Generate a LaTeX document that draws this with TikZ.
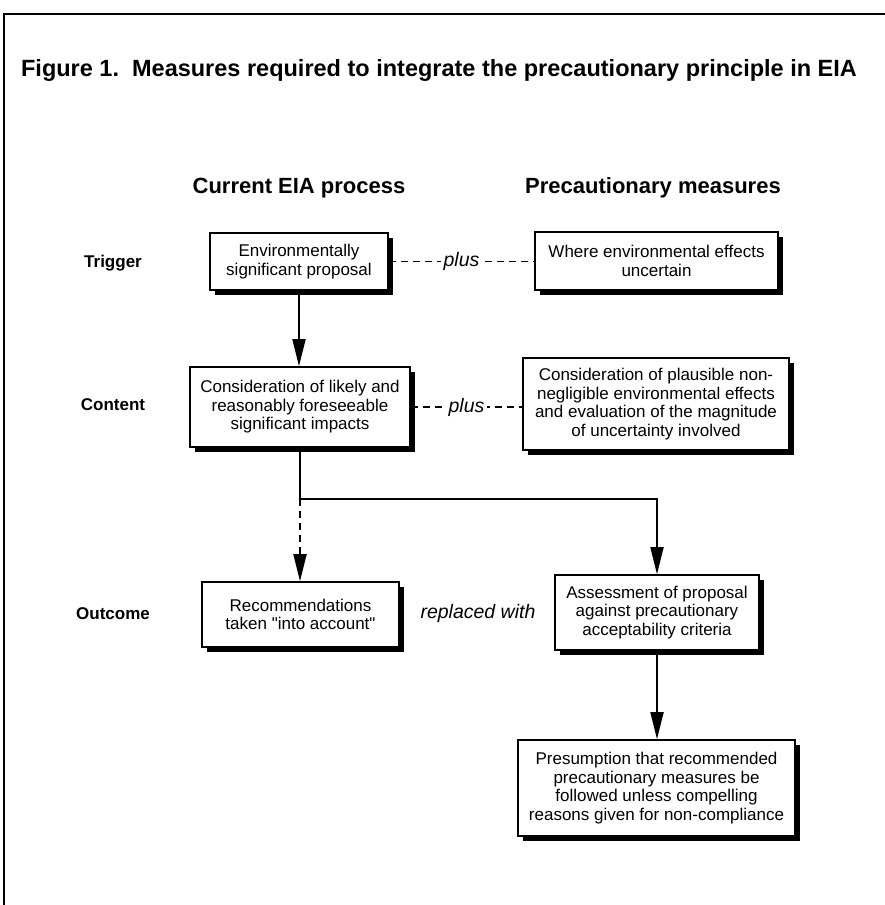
\documentclass[tikz,border=0pt]{standalone}
\usepackage{fontspec}
\setmainfont{Liberation Sans}
\newfontfamily\qfont{Liberation Sans}[Ligatures=TeXOff]
\usetikzlibrary{arrows.meta,shadows}
\begin{document}
\begin{tikzpicture}[x=1pt,y=-1pt,
  box/.style={draw, line width=1.6pt, fill=white, align=center, inner sep=0pt,
    font=\fontsize{17}{18.5}\selectfont,
    drop shadow={shadow xshift=5pt, shadow yshift=-5pt, fill=black, opacity=1}},
  rowlab/.style={font=\bfseries\fontsize{17}{20}\selectfont},
  colhead/.style={font=\bfseries\fontsize{22}{26}\selectfont},
  titlefont/.style={font=\bfseries\fontsize{23.5}{28}\selectfont},
  conn/.style={line width=1.8pt, -{Triangle[length=27pt,width=13pt]}},
  dconn/.style={conn, dash pattern=on 7pt off 5pt},
  plusline/.style={line width=1.3pt, dash pattern=on 7pt off 5pt},
  itlab/.style={font=\itshape\fontsize{19.5}{22}\selectfont, inner sep=3pt},
  plab/.style={itlab, fill=white},
]
\useasboundingbox (0,0) rectangle (885,905);
\draw[line width=1.5pt] (4,905) -- (4,14) -- (885,14);

\node[titlefont] (title) at (439,70) {Figure 1.\ \ Measures required to integrate the precautionary principle in EIA};

\node[colhead] (hcur) at (299,188) {Current EIA process};
\node[colhead] (hpre) at (653,188) {Precautionary measures};

\node[rowlab] (rtrig) at (113,263) {Trigger};
\node[rowlab] (rcont) at (113,405) {Content};
\node[rowlab] (rout) at (113,614) {Outcome};

\node[box, minimum width=178pt, minimum height=57pt] (b1) at (299,261.5)
  {Environmentally\\significant proposal};
\node[box, minimum width=243pt, minimum height=58pt] (b2) at (656.5,261)
  {Where environmental effects\\uncertain};
\node[box, minimum width=220pt, minimum height=80pt] (b3) at (300,407)
  {Consideration of likely and\\reasonably foreseeable\\significant impacts};
\node[box, minimum width=266pt, minimum height=92pt] (b4) at (656,404)
  {Consideration of plausible non-\\negligible environmental effects\\and evaluation of the magnitude\\of uncertainty involved};
\node[box, minimum width=197pt, minimum height=65pt] (b5) at (300.5,614.5)
  {Recommendations\\taken {\qfont"}into account{\qfont"}};
\node[box, minimum width=204pt, minimum height=75pt] (b6) at (657,612.5)
  {Assessment of proposal\\against precautionary\\acceptability criteria};
\node[box, minimum width=277pt, minimum height=96pt] (b7) at (656.5,788)
  {Presumption that recommended\\precautionary measures be\\followed unless compelling\\reasons given for non-compliance};

\node[itlab] (repl) at (478,613) {replaced with};

\draw[plusline] (b1.east) -- node[plab] (plus1) {plus} (b1.east -| b2.west);
\draw[plusline] (b3.east) -- node[plab] (plus2) {plus} (b3.east -| b4.west);

\draw[conn] (b1.south) -- (b1.south |- b3.north);
\coordinate (split) at (300,499);
\draw[line width=1.8pt] (b3.south) -- (split);
\draw[conn] (split) -| (b6.north);
\draw[dconn] (split) -- (split |- b5.north);
\draw[conn] (b6.south) -- (b6.south |- b7.north);
\end{tikzpicture}
\end{document}
